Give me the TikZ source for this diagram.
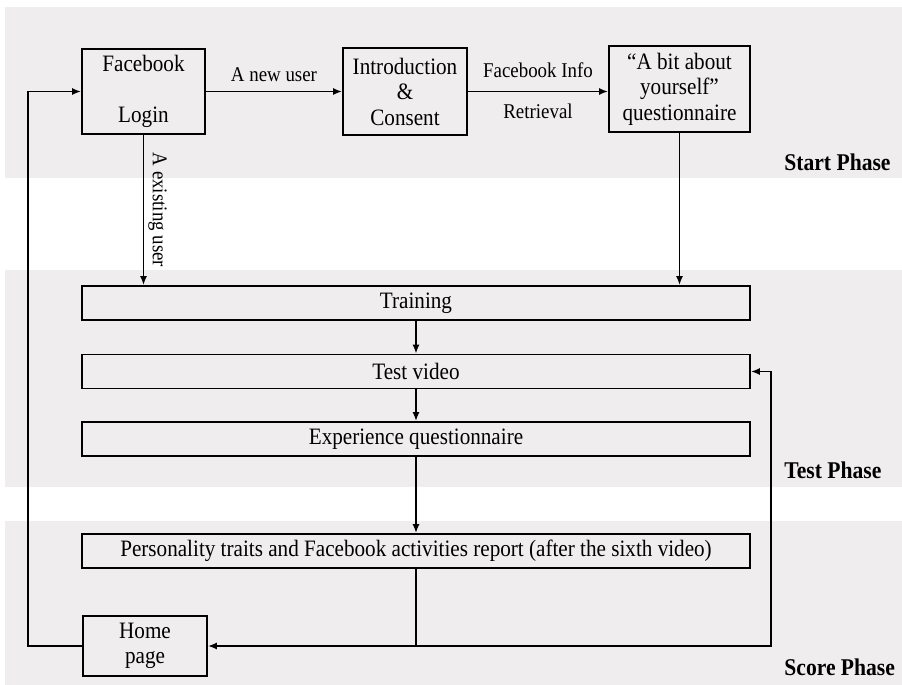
\documentclass[tikz,border=0pt]{standalone}
\usepackage{fontspec}
\setmainfont[FakeStretch=0.9]{Liberation Serif}
\usetikzlibrary{arrows.meta}
\definecolor{band}{HTML}{EFEDEE}

\begin{document}
\begin{tikzpicture}[x=0.5pt,y=-0.5pt,
    font=\fontsize{11.75}{12.75}\selectfont,
    box/.style={draw, line width=0.9pt, align=center, inner sep=0pt},
    wide/.style={box, minimum width=334pt, minimum height=17pt},
    small/.style={box, minimum width=62pt, minimum height=43pt},
    arr/.style={line width=0.8pt, -{Latex[length=4.5pt,width=3.5pt]}},
    lbl/.style={font=\fontsize{10.5}{12}\selectfont},
    phase/.style={font=\fontsize{12}{13}\selectfont\bfseries, anchor=west, inner sep=0pt}]
  \useasboundingbox (0,0) rectangle (902,685);
  % phase bands
  \fill [band] (5,7) rectangle (902,178);
  \fill [band] (5,270) rectangle (902,487);
  \fill [band] (5,521) rectangle (902,685);

  \node (fb) [small, minimum width=61.5pt, minimum height=42.5pt] at (143.5,91.5) {Facebook\\[12.75pt]Login};
  \node (intro) [small, minimum height=43.5pt] at (405,91.5) {Introduction\\\&\\Consent};
  \node (bit) [small, minimum width=70.5pt] at (679.5,89) {“A bit about\\yourself”\\questionnaire};
  \node (train) [wide] at (416,303) {Training};
  \node (test) [wide] at (416,371.5) {Test video};
  \node (exp) [wide] at (416,439) {Experience questionnaire};
  \node (pers) [wide] at (416,551) {Personality traits and Facebook activities report (after the sixth video)};
  \node (home) [small, minimum height=30pt] at (145,646) {Home\\page};

  \node (start) [phase] at (784,162) {Start Phase};
  \node (testph) [phase] at (784,470) {Test Phase};
  \node (score) [phase] at (784,667) {Score Phase};

  % start phase
  \draw [arr] (fb) -- (intro) node [midway, lbl, yshift=8.5pt] {A new user};
  \draw [arr] (intro) -- (intro -| bit.west)
    node [midway, lbl, yshift=10.75pt] {Facebook Info}
    node [midway, lbl, yshift=-9.75pt] {Retrieval};
  \draw [arr] (fb) -- (fb |- train.north)
    node [midway, lbl, rotate=-90, anchor=south, inner sep=2pt] {A existing user};
  \draw [arr] (bit) -- (bit |- train.north);

  % test phase
  \draw [arr] (train) -- (test);
  \draw [arr] (test) -- (exp);
  \draw [arr] (exp) -- (pers);

  % score phase
  \coordinate (split) at (pers.south |- home.east);
  \draw [arr] (pers) -- (split) -- (home);
  \draw [arr] (split) -| ([xshift=10pt]test.east) -- (test);
  \draw [arr] (home.west) -- ++(-54,0) |- (fb.west);
\end{tikzpicture}
\end{document}
